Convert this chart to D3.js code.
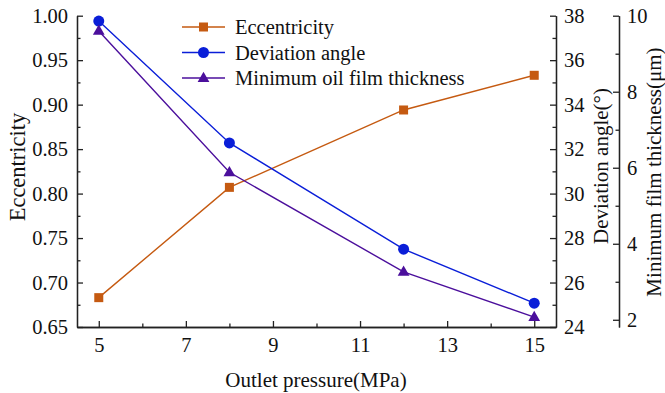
<!DOCTYPE html>
<html>
<head>
<meta charset="utf-8">
<script src="https://cdn.jsdelivr.net/npm/d3@7"></script>
<style>
body { margin: 0; background: #fff; }
</style>
</head>
<body>
<svg id="chart"></svg>
<script>
// data
var pressure = [5, 8, 12, 15]
var eccentricity = [0.683, 0.807, 0.894, 0.933]
var deviationAngle = [37.76, 32.28, 27.5, 25.07]
var minFilm = [9.6, 5.88, 3.26, 2.07]

var xTicks = [5, 7, 9, 11, 13, 15]
var xMinor = [6, 8, 10, 12, 14]
var eTicks = [0.65, 0.70, 0.75, 0.80, 0.85, 0.90, 0.95, 1.00]
var eMinor = [0.675, 0.725, 0.775, 0.825, 0.875, 0.925, 0.975]
var aTicks = [24, 26, 28, 30, 32, 34, 36, 38]
var aMinor = [25, 27, 29, 31, 33, 35, 37]
var hTicks = [2, 4, 6, 8, 10]
var hMinor = [3, 5, 7, 9]

var series = [
    {name: "Eccentricity", values: eccentricity, color: "#c55a11", shape: "square", axis: "e"},
    {name: "Deviation angle", values: deviationAngle, color: "#0a1ed8", shape: "circle", axis: "a"},
    {name: "Minimum oil film thickness", values: minFilm, color: "#4b0f9c", shape: "triangle", axis: "h"}
]

var FONT = "'Liberation Serif'"

var dimensions = {
    width: 665,
    height: 393,
    left: 77,
    right: 556,
    right2: 619,
    top: 15.7,
    bottom: 327
}

var svg = d3.select("#chart")
    .attr("width", dimensions.width)
    .attr("height", dimensions.height)

var xScale = d3.scaleLinear()
    .domain([4.5, 15.5])
    .range([dimensions.left, dimensions.right])

var yScales = {
    e: d3.scaleLinear().domain([0.65, 1.00]).range([dimensions.bottom, dimensions.top]),
    a: d3.scaleLinear().domain([24, 38]).range([dimensions.bottom, dimensions.top]),
    h: d3.scaleLinear().domain([1.81, 10]).range([dimensions.bottom, dimensions.top])
}

function styleAxis(g) {
    g.attr("font-family", null).attr("font-size", null)
    g.selectAll("path").attr("stroke", "#222").attr("stroke-width", 1.3)
    g.selectAll("line").attr("stroke", "#222").attr("stroke-width", 1.3)
    g.selectAll("text").style("font-size", "20.5px").style("font-family", FONT).attr("fill", "#111")
}

// x axis
var xAxis = svg.append("g")
    .attr("transform", "translate(0," + dimensions.bottom + ")")
    .call(d3.axisBottom(xScale).tickValues(xTicks).tickFormat(d3.format("d"))
        .tickSizeInner(-6).tickSizeOuter(0).tickPadding(10))
styleAxis(xAxis)
var xAxisMinor = svg.append("g")
    .attr("transform", "translate(0," + dimensions.bottom + ")")
    .call(d3.axisBottom(xScale).tickValues(xMinor).tickFormat("")
        .tickSizeInner(-3.5).tickSizeOuter(0))
styleAxis(xAxisMinor)

// left axis
var eAxis = svg.append("g")
    .attr("transform", "translate(" + dimensions.left + ",0)")
    .call(d3.axisLeft(yScales.e).tickValues(eTicks).tickFormat(d3.format(".2f"))
        .tickSizeInner(-6).tickSizeOuter(0).tickPadding(9))
styleAxis(eAxis)
var eAxisMinor = svg.append("g")
    .attr("transform", "translate(" + dimensions.left + ",0)")
    .call(d3.axisLeft(yScales.e).tickValues(eMinor).tickFormat("")
        .tickSizeInner(-3.5).tickSizeOuter(0))
styleAxis(eAxisMinor)

// right axis: deviation angle
var aAxis = svg.append("g")
    .attr("transform", "translate(" + dimensions.right + ",0)")
    .call(d3.axisRight(yScales.a).tickValues(aTicks).tickFormat(d3.format("d"))
        .tickSizeInner(-6).tickSizeOuter(0).tickPadding(8))
styleAxis(aAxis)
var aAxisMinor = svg.append("g")
    .attr("transform", "translate(" + dimensions.right + ",0)")
    .call(d3.axisRight(yScales.a).tickValues(aMinor).tickFormat("")
        .tickSizeInner(-3.5).tickSizeOuter(0))
styleAxis(aAxisMinor)

// second right axis: film thickness
var hAxis = svg.append("g")
    .attr("transform", "translate(" + dimensions.right2 + ",0)")
    .call(d3.axisRight(yScales.h).tickValues(hTicks).tickFormat(d3.format("d"))
        .tickSizeInner(-6).tickSizeOuter(0).tickPadding(8))
styleAxis(hAxis)
var hAxisMinor = svg.append("g")
    .attr("transform", "translate(" + dimensions.right2 + ",0)")
    .call(d3.axisRight(yScales.h).tickValues(hMinor).tickFormat("")
        .tickSizeInner(-3.5).tickSizeOuter(0))
styleAxis(hAxisMinor)

// axis titles
function title(x, y, rot, txt, size) {
    svg.append("text")
        .attr("transform", "translate(" + x + "," + y + ")" + (rot ? " rotate(-90)" : ""))
        .attr("text-anchor", "middle")
        .attr("fill", "#111")
        .style("font-size", size + "px")
        .style("font-family", FONT)
        .text(txt)
}
title((dimensions.left + dimensions.right) / 2 - 0.5, 387, false, "Outlet pressure(MPa)", 21)
title(25, 167, true, "Eccentricity", 22.5)
title(608, 166, true, "Deviation angle(°)", 21)
title(661, 172, true, "Minimum film thickness(μm)", 21)

function drawMarker(g, shape, color, x, y) {
    if (shape == "square") {
        g.append("rect").attr("x", x - 4.5).attr("y", y - 4.5)
            .attr("width", 9).attr("height", 9).attr("fill", color)
    } else if (shape == "circle") {
        g.append("circle").attr("cx", x).attr("cy", y).attr("r", 5.5).attr("fill", color)
    } else {
        g.append("path")
            .attr("d", d3.symbol().type(d3.symbolTriangle).size(60)())
            .attr("transform", "translate(" + x + "," + (y + 0.5) + ")")
            .attr("fill", color)
    }
}

// lines and markers
series.forEach(function (s) {
    var yScale = yScales[s.axis]
    var pts = pressure.map((p, i) => [xScale(p), yScale(s.values[i])])
    svg.append("path")
        .attr("d", d3.line()(pts))
        .attr("fill", "none")
        .attr("stroke", s.color)
        .attr("stroke-width", 1.4)
    var g = svg.append("g")
    pts.forEach(p => drawMarker(g, s.shape, s.color, p[0], p[1]))
})

// legend
var legend = svg.append("g")
series.forEach(function (s, i) {
    var y = 27 + i * 25.5
    legend.append("line")
        .attr("x1", 182).attr("x2", 225)
        .attr("y1", y).attr("y2", y)
        .attr("stroke", s.color).attr("stroke-width", 1.4)
    drawMarker(legend, s.shape, s.color, 203.5, y)
    legend.append("text")
        .attr("x", 235).attr("y", y + 7)
        .attr("fill", "#111")
        .style("font-size", "20.5px")
        .style("font-family", FONT)
        .text(s.name)
})
</script>
</body>
</html>
